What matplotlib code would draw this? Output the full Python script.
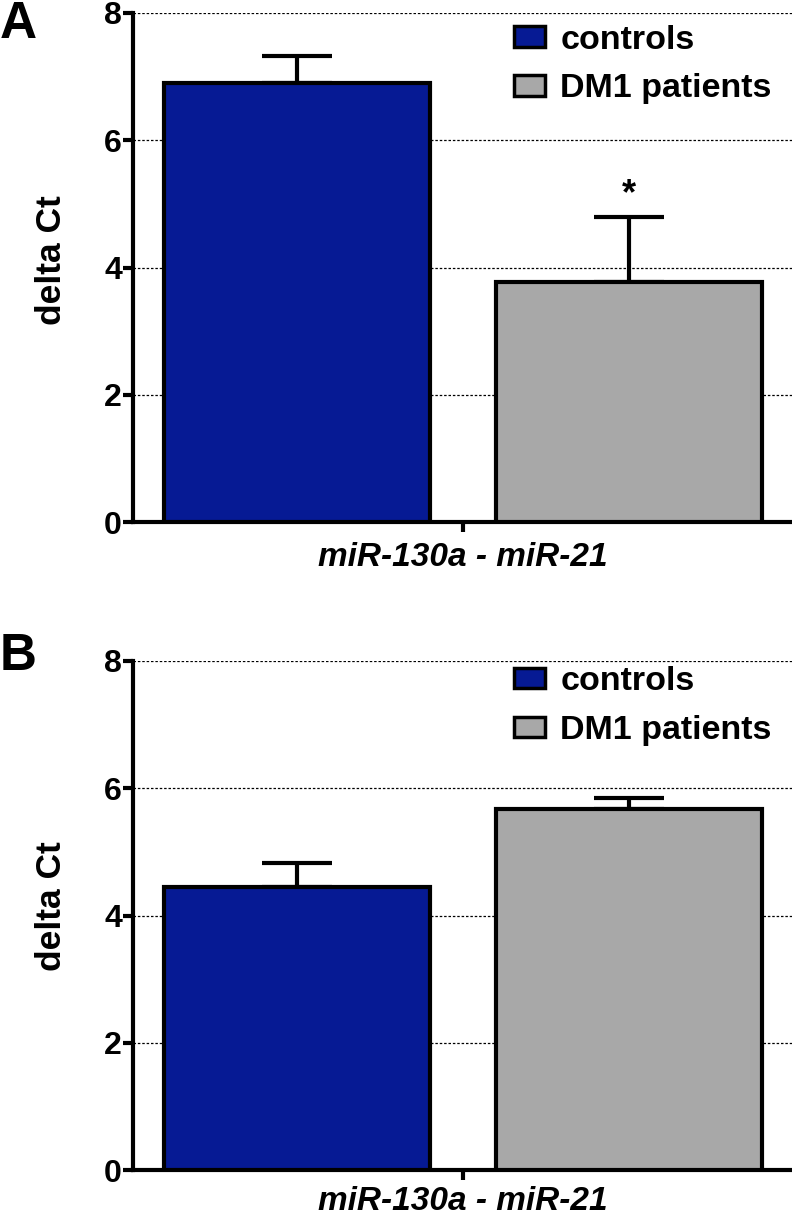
import numpy as np
import matplotlib
matplotlib.use("Agg")
import matplotlib.pyplot as plt

# values
groups = ["controls", "DM1 patients"]
colors = ["#061a94", "#a8a8a8"]
mean_a = [6.90, 3.77]
sem_a = [0.43, 1.02]
mean_b = [4.45, 5.68]
sem_b = [0.38, 0.17]
xlabel = "miR-130a - miR-21"
yticks = [0, 2, 4, 6, 8]

plt.rcParams['font.family'] = ['Liberation Sans', 'DejaVu Sans']
plt.rcParams['font.weight'] = 'bold'

fig = plt.figure(figsize=(7.92, 12.16), dpi=100, facecolor='w')
W, H = 792.0, 1216.0


def panel(top, bottom, letter, letter_y, ylab_y, xlab_off, leg_y, means, sems,
          star=False):
    ax = fig.add_axes([133 / W, 1 - bottom / H, 1 - 133 / W, (bottom - top) / H])
    x = np.arange(len(groups))
    ax.bar(x, means, width=0.80, color=colors, edgecolor='black',
           linewidth=3.0, zorder=3)
    ax.errorbar(x, means, yerr=[np.zeros(len(sems)), sems], fmt='none',
                ecolor='black', elinewidth=3.0, capsize=25, capthick=3.0,
                zorder=2)
    ax.set_xlim(-0.494, 1.491)
    ax.set_ylim(0, 8)
    ax.set_yticks(yticks)
    ax.set_xticks([0.5])
    ax.set_xticklabels([''])
    ax.spines['right'].set_visible(False)
    ax.spines['top'].set_visible(False)
    ax.spines['left'].set_linewidth(3.0)
    ax.spines['bottom'].set_linewidth(3.0)
    ax.tick_params(axis='y', length=7, width=3, labelsize=23, pad=1)
    ax.tick_params(axis='x', length=7, width=3)
    for t in yticks[1:]:
        ax.axhline(t, color='black', linewidth=0.9, linestyle=(0, (2, 1.5)),
                   zorder=1)
    ax.set_ylabel("delta Ct", fontsize=25.5, fontweight='bold')
    ax.yaxis.set_label_coords(-0.099, ylab_y)
    ax.text(0.5, -xlab_off / (bottom - top), xlabel, transform=ax.transAxes,
            ha='center', va='center', fontsize=24, fontweight='bold',
            style='italic')
    handles = [plt.Rectangle((0, 0), 1, 1, facecolor=c, edgecolor='black',
                             linewidth=2.5) for c in colors]
    ax.legend(handles, groups, loc='upper right', frameon=False,
              bbox_to_anchor=(1.0, leg_y), fontsize=24.5, handlelength=0.9,
              handleheight=0.55, handletextpad=0.45, labelspacing=0.52,
              borderaxespad=0.2)
    fig.text(0.0, 1 - letter_y / H, letter, fontsize=37, fontweight='bold',
             ha='left', va='center')
    if star:
        ax.text(1, means[1] + sems[1] + 0.35, "*", ha='center', va='center',
                fontsize=26, fontweight='bold')
    return ax


panel(13, 522, "A", 24, 0.515, 35, 1.017, mean_a, sem_a, star=True)
panel(661, 1170, "B", 656, 0.519, 31, 1.03, mean_b, sem_b)

fig.savefig("out.png", dpi=100)
